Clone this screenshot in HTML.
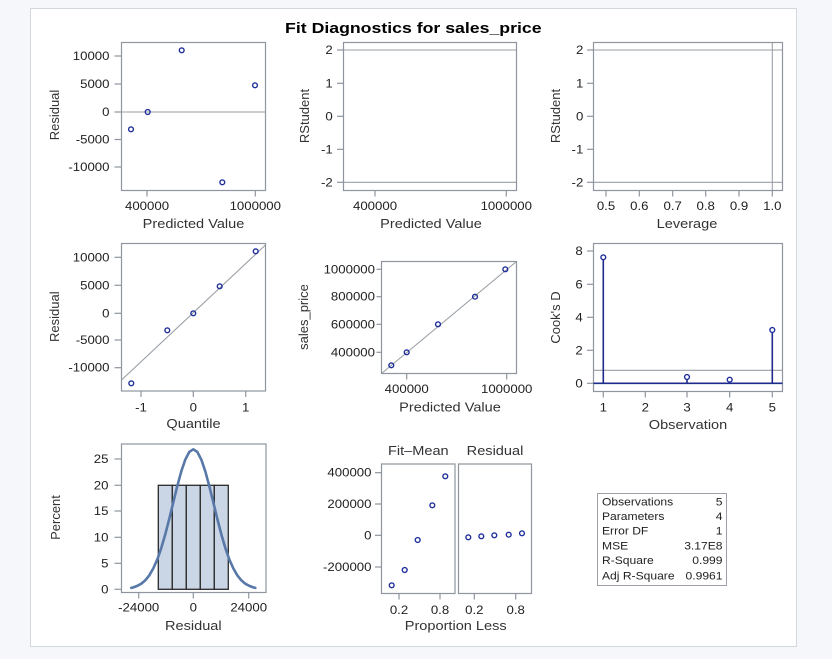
<!DOCTYPE html>
<html><head><meta charset="utf-8"><style>
html,body{margin:0;padding:0;background:#f5f7fb;}
svg{display:block;}
text{font-family:"Liberation Sans",Arial,sans-serif;fill:#222;}
.tk{font-size:11.5px;}
.al{font-size:13px;fill:#333;}
.tb{font-size:11px;fill:#222;}
.bx{fill:none;stroke:#8e959e;stroke-width:1.2;}
.tm{stroke:#8e959e;stroke-width:1.2;}
.rl{stroke:#9a9fa6;stroke-width:1.1;}
.mk{fill:none;stroke:#1f2f9a;stroke-width:1.4;}
</style></head><body>
<svg width="832" height="659" viewBox="0 0 832 659" xmlns="http://www.w3.org/2000/svg">
<rect x="0" y="0" width="832" height="659" fill="#f5f7fb"/>
<rect x="30.5" y="8.5" width="766" height="638" fill="#fff" stroke="#d3d7de" stroke-width="1"/>

<text transform="translate(413.3,33) scale(1.18,1)" text-anchor="middle" style="font-size:15px;font-weight:bold;fill:#000">Fit Diagnostics for sales_price</text>

<!-- Panel 1 -->
<line class="rl" x1="121.5" y1="112" x2="265.5" y2="112"/>
<rect class="bx" x="121.5" y="42.5" width="144" height="148"/>
<g class="tm">
<line x1="114.5" y1="56" x2="121.5" y2="56"/><line x1="114.5" y1="84" x2="121.5" y2="84"/><line x1="114.5" y1="112" x2="121.5" y2="112"/><line x1="114.5" y1="139.5" x2="121.5" y2="139.5"/><line x1="114.5" y1="167" x2="121.5" y2="167"/>
<line x1="147" y1="190.5" x2="147" y2="196.5"/><line x1="255.3" y1="190.5" x2="255.3" y2="196.5"/>
</g>
<g class="tk" text-anchor="end">
<text transform="translate(109.5,60) scale(1.15,1)">10000</text>
<text transform="translate(109.5,88) scale(1.15,1)">5000</text>
<text transform="translate(109.5,116) scale(1.15,1)">0</text>
<text transform="translate(109.5,143.5) scale(1.15,1)">-5000</text>
<text transform="translate(109.5,171) scale(1.15,1)">-10000</text>
</g>
<g class="tk" text-anchor="middle">
<text transform="translate(147,210) scale(1.15,1)">400000</text>
<text transform="translate(255.3,210) scale(1.15,1)">1000000</text>
</g>
<text class="al" text-anchor="middle" transform="translate(193.5,228) scale(1.12,1)">Predicted Value</text>
<text class="al" text-anchor="middle" transform="translate(59,115) rotate(-90)">Residual</text>
<g class="mk">
<circle cx="131" cy="129.3" r="2.4"/><circle cx="147.7" cy="112" r="2.4"/><circle cx="181.7" cy="50.3" r="2.4"/><circle cx="222.3" cy="182.3" r="2.4"/><circle cx="255" cy="85.3" r="2.4"/>
</g>

<!-- Panel 2 -->
<line class="rl" x1="343.5" y1="50" x2="516.5" y2="50"/>
<line class="rl" x1="343.5" y1="182.3" x2="516.5" y2="182.3"/>
<rect class="bx" x="343.5" y="42.5" width="173" height="148"/>
<g class="tm">
<line x1="337" y1="50" x2="343.5" y2="50"/><line x1="337" y1="83.3" x2="343.5" y2="83.3"/><line x1="337" y1="116.3" x2="343.5" y2="116.3"/><line x1="337" y1="149.3" x2="343.5" y2="149.3"/><line x1="337" y1="182.3" x2="343.5" y2="182.3"/>
<line x1="375" y1="190.5" x2="375" y2="196.5"/><line x1="506.3" y1="190.5" x2="506.3" y2="196.5"/>
</g>
<g class="tk" text-anchor="end">
<text transform="translate(332.7,54) scale(1.15,1)">2</text>
<text transform="translate(332.7,87.3) scale(1.15,1)">1</text>
<text transform="translate(332.7,120.3) scale(1.15,1)">0</text>
<text transform="translate(332.7,153.3) scale(1.15,1)">-1</text>
<text transform="translate(332.7,186.3) scale(1.15,1)">-2</text>
</g>
<g class="tk" text-anchor="middle">
<text transform="translate(375,210) scale(1.15,1)">400000</text>
<text transform="translate(506.3,210) scale(1.15,1)">1000000</text>
</g>
<text class="al" text-anchor="middle" transform="translate(431,228) scale(1.12,1)">Predicted Value</text>
<text class="al" text-anchor="middle" transform="translate(309,116) rotate(-90)">RStudent</text>

<!-- Panel 3 -->
<line class="rl" x1="593.5" y1="50" x2="782.5" y2="50"/>
<line class="rl" x1="593.5" y1="182.3" x2="782.5" y2="182.3"/>
<line class="rl" x1="772.3" y1="42.5" x2="772.3" y2="190.5"/>
<rect class="bx" x="593.5" y="42.5" width="189" height="148"/>
<g class="tm">
<line x1="587" y1="50" x2="593.5" y2="50"/><line x1="587" y1="83.3" x2="593.5" y2="83.3"/><line x1="587" y1="116.3" x2="593.5" y2="116.3"/><line x1="587" y1="149.3" x2="593.5" y2="149.3"/><line x1="587" y1="182.3" x2="593.5" y2="182.3"/>
<line x1="606" y1="190.5" x2="606" y2="196.5"/><line x1="639.3" y1="190.5" x2="639.3" y2="196.5"/><line x1="672.7" y1="190.5" x2="672.7" y2="196.5"/><line x1="705.7" y1="190.5" x2="705.7" y2="196.5"/><line x1="739" y1="190.5" x2="739" y2="196.5"/><line x1="772.3" y1="190.5" x2="772.3" y2="196.5"/>
</g>
<g class="tk" text-anchor="end">
<text transform="translate(583.3,54) scale(1.15,1)">2</text>
<text transform="translate(583.3,87.3) scale(1.15,1)">1</text>
<text transform="translate(583.3,120.3) scale(1.15,1)">0</text>
<text transform="translate(583.3,153.3) scale(1.15,1)">-1</text>
<text transform="translate(583.3,186.3) scale(1.15,1)">-2</text>
</g>
<g class="tk" text-anchor="middle">
<text transform="translate(606,210) scale(1.15,1)">0.5</text>
<text transform="translate(639.3,210) scale(1.15,1)">0.6</text>
<text transform="translate(672.7,210) scale(1.15,1)">0.7</text>
<text transform="translate(705.7,210) scale(1.15,1)">0.8</text>
<text transform="translate(739,210) scale(1.15,1)">0.9</text>
<text transform="translate(772.3,210) scale(1.15,1)">1.0</text>
</g>
<text class="al" text-anchor="middle" transform="translate(687,228) scale(1.12,1)">Leverage</text>
<text class="al" text-anchor="middle" transform="translate(560,116) rotate(-90)">RStudent</text>

<!-- Panel 4 (QQ) -->
<clipPath id="c4"><rect x="121.5" y="243.5" width="144" height="147.5"/></clipPath>
<line class="rl" x1="121.5" y1="380" x2="265.5" y2="245" clip-path="url(#c4)"/>
<rect class="bx" x="121.5" y="243.5" width="144" height="147.5"/>
<g class="tm">
<line x1="114.5" y1="257.3" x2="121.5" y2="257.3"/><line x1="114.5" y1="285.3" x2="121.5" y2="285.3"/><line x1="114.5" y1="313.3" x2="121.5" y2="313.3"/><line x1="114.5" y1="340" x2="121.5" y2="340"/><line x1="114.5" y1="367.7" x2="121.5" y2="367.7"/>
<line x1="141" y1="391" x2="141" y2="397"/><line x1="193.3" y1="391" x2="193.3" y2="397"/><line x1="245.7" y1="391" x2="245.7" y2="397"/>
</g>
<g class="tk" text-anchor="end">
<text transform="translate(109.5,261.3) scale(1.15,1)">10000</text>
<text transform="translate(109.5,289.3) scale(1.15,1)">5000</text>
<text transform="translate(109.5,317.3) scale(1.15,1)">0</text>
<text transform="translate(109.5,344) scale(1.15,1)">-5000</text>
<text transform="translate(109.5,371.7) scale(1.15,1)">-10000</text>
</g>
<g class="tk" text-anchor="middle">
<text transform="translate(141,411.5) scale(1.15,1)">-1</text>
<text transform="translate(193.3,411.5) scale(1.15,1)">0</text>
<text transform="translate(245.7,411.5) scale(1.15,1)">1</text>
</g>
<text class="al" text-anchor="middle" transform="translate(193.5,428) scale(1.12,1)">Quantile</text>
<text class="al" text-anchor="middle" transform="translate(59,316.7) rotate(-90)">Residual</text>
<g class="mk">
<circle cx="131.3" cy="383.3" r="2.4"/><circle cx="167.3" cy="330.3" r="2.4"/><circle cx="193.3" cy="313.3" r="2.4"/><circle cx="219.7" cy="286.3" r="2.4"/><circle cx="255.7" cy="251.3" r="2.4"/>
</g>

<!-- Panel 5 -->
<line class="rl" x1="381.5" y1="373.5" x2="516.5" y2="261.5"/>
<rect class="bx" x="381.5" y="261.5" width="135" height="112"/>
<g class="tm">
<line x1="376.5" y1="269.3" x2="381.5" y2="269.3"/><line x1="376.5" y1="296.7" x2="381.5" y2="296.7"/><line x1="376.5" y1="324.3" x2="381.5" y2="324.3"/><line x1="376.5" y1="352.3" x2="381.5" y2="352.3"/>
<line x1="406.7" y1="373.5" x2="406.7" y2="379.5"/><line x1="506.7" y1="373.5" x2="506.7" y2="379.5"/>
</g>
<g class="tk" text-anchor="end">
<text transform="translate(375,273.3) scale(1.15,1)">1000000</text>
<text transform="translate(375,300.7) scale(1.15,1)">800000</text>
<text transform="translate(375,328.3) scale(1.15,1)">600000</text>
<text transform="translate(375,356.3) scale(1.15,1)">400000</text>
</g>
<g class="tk" text-anchor="middle">
<text transform="translate(406.7,393) scale(1.15,1)">400000</text>
<text transform="translate(506.7,393) scale(1.15,1)">1000000</text>
</g>
<text class="al" text-anchor="middle" transform="translate(450,411.5) scale(1.12,1)">Predicted Value</text>
<text class="al" text-anchor="middle" transform="translate(308,317) rotate(-90)">sales_price</text>
<g class="mk">
<circle cx="391.3" cy="365.3" r="2.4"/><circle cx="406.7" cy="352.3" r="2.4"/><circle cx="438" cy="324.3" r="2.4"/><circle cx="475" cy="296.7" r="2.4"/><circle cx="505.3" cy="269.3" r="2.4"/>
</g>

<!-- Panel 6 Cook's D -->
<line class="rl" x1="593.5" y1="370.3" x2="782.5" y2="370.3"/>
<rect class="bx" x="593.5" y="243.5" width="189" height="148"/>
<g stroke="#1f2a8c" stroke-width="1.6">
<line x1="593.5" y1="383.3" x2="782.5" y2="383.3"/>
<line x1="603.3" y1="383.3" x2="603.3" y2="259.5"/>
<line x1="687" y1="383.3" x2="687" y2="379"/>
<line x1="729.7" y1="383.3" x2="729.7" y2="382"/>
<line x1="772.3" y1="383.3" x2="772.3" y2="332.3"/>
</g>
<g class="tm">
<line x1="587" y1="251" x2="593.5" y2="251"/><line x1="587" y1="284.3" x2="593.5" y2="284.3"/><line x1="587" y1="317.3" x2="593.5" y2="317.3"/><line x1="587" y1="350.3" x2="593.5" y2="350.3"/><line x1="587" y1="383.3" x2="593.5" y2="383.3"/>
<line x1="603.3" y1="391.5" x2="603.3" y2="397.5"/><line x1="645.3" y1="391.5" x2="645.3" y2="397.5"/><line x1="687" y1="391.5" x2="687" y2="397.5"/><line x1="729.7" y1="391.5" x2="729.7" y2="397.5"/><line x1="772.3" y1="391.5" x2="772.3" y2="397.5"/>
</g>
<g class="tk" text-anchor="end">
<text transform="translate(582.7,255) scale(1.15,1)">8</text>
<text transform="translate(582.7,288.3) scale(1.15,1)">6</text>
<text transform="translate(582.7,321.3) scale(1.15,1)">4</text>
<text transform="translate(582.7,354.3) scale(1.15,1)">2</text>
<text transform="translate(582.7,387.3) scale(1.15,1)">0</text>
</g>
<g class="tk" text-anchor="middle">
<text transform="translate(603.3,411.5) scale(1.15,1)">1</text>
<text transform="translate(645.3,411.5) scale(1.15,1)">2</text>
<text transform="translate(687,411.5) scale(1.15,1)">3</text>
<text transform="translate(729.7,411.5) scale(1.15,1)">4</text>
<text transform="translate(772.3,411.5) scale(1.15,1)">5</text>
</g>
<text class="al" text-anchor="middle" transform="translate(688,429) scale(1.12,1)">Observation</text>
<text class="al" text-anchor="middle" transform="translate(560,317.5) rotate(-90)">Cook's D</text>
<g class="mk">
<circle cx="603.3" cy="257.3" r="2.4"/><circle cx="687" cy="377" r="2.4"/><circle cx="729.7" cy="379.7" r="2.4"/><circle cx="772.3" cy="330" r="2.4"/>
</g>

<!-- Panel 7 histogram -->
<g fill="#cad5e5" stroke="#2a2a2a" stroke-width="1.3">
<rect x="158.3" y="485.3" width="14" height="104"/>
<rect x="172.3" y="485.3" width="14" height="104"/>
<rect x="186.3" y="485.3" width="14" height="104"/>
<rect x="200.3" y="485.3" width="14" height="104"/>
<rect x="214.3" y="485.3" width="14" height="104"/>
</g>
<polyline fill="none" stroke="#5878a8" stroke-width="2.6" stroke-linejoin="round" stroke-linecap="round" points="131.3,587.9 133.3,587.4 137.3,585.9 141.3,583.7 145.3,580.3 149.3,575.3 153.3,568.4 157.3,559.4 161.3,547.9 165.3,534.2 169.3,518.8 173.3,502.3 177.3,486.1 181.3,471.3 185.3,459.6 189.3,451.9 193.3,449.3 197.3,451.9 201.3,459.6 205.3,471.3 209.3,486.1 213.3,502.3 217.3,518.8 221.3,534.2 225.3,547.9 229.3,559.4 233.3,568.4 237.3,575.3 241.3,580.3 245.3,583.7 249.3,585.9 253.3,587.4 255.3,587.9"/>
<rect class="bx" x="121.5" y="444" width="144.5" height="148.5"/>
<g class="tm">
<line x1="114.5" y1="459" x2="121.5" y2="459"/><line x1="114.5" y1="485.3" x2="121.5" y2="485.3"/><line x1="114.5" y1="511" x2="121.5" y2="511"/><line x1="114.5" y1="537.3" x2="121.5" y2="537.3"/><line x1="114.5" y1="563.3" x2="121.5" y2="563.3"/><line x1="114.5" y1="589.3" x2="121.5" y2="589.3"/>
<line x1="138.7" y1="592.5" x2="138.7" y2="598.5"/><line x1="193.3" y1="592.5" x2="193.3" y2="598.5"/><line x1="248.7" y1="592.5" x2="248.7" y2="598.5"/>
</g>
<g class="tk" text-anchor="end">
<text transform="translate(108.5,463) scale(1.15,1)">25</text>
<text transform="translate(108.5,489.3) scale(1.15,1)">20</text>
<text transform="translate(108.5,515) scale(1.15,1)">15</text>
<text transform="translate(108.5,541.3) scale(1.15,1)">10</text>
<text transform="translate(108.5,567.3) scale(1.15,1)">5</text>
<text transform="translate(108.5,593.3) scale(1.15,1)">0</text>
</g>
<g class="tk" text-anchor="middle">
<text transform="translate(138.7,611.5) scale(1.15,1)">-24000</text>
<text transform="translate(193.3,611.5) scale(1.15,1)">0</text>
<text transform="translate(248.7,611.5) scale(1.15,1)">24000</text>
</g>
<text class="al" text-anchor="middle" transform="translate(193.3,630) scale(1.12,1)">Residual</text>
<text class="al" text-anchor="middle" transform="translate(60,517.5) rotate(-90)">Percent</text>

<!-- Panel 8 -->
<text class="al" text-anchor="middle" transform="translate(418.3,455) scale(1.12,1)">Fit–Mean</text>
<text class="al" text-anchor="middle" transform="translate(495,455) scale(1.12,1)">Residual</text>
<rect class="bx" x="381.5" y="464" width="73.5" height="129.5"/>
<rect class="bx" x="458.5" y="464" width="73" height="129.5"/>
<g class="tm">
<line x1="375" y1="472.7" x2="381.5" y2="472.7"/><line x1="375" y1="504" x2="381.5" y2="504"/><line x1="375" y1="535.3" x2="381.5" y2="535.3"/><line x1="375" y1="567" x2="381.5" y2="567"/>
<line x1="399" y1="593.5" x2="399" y2="599.5"/><line x1="440" y1="593.5" x2="440" y2="599.5"/><line x1="474.3" y1="593.5" x2="474.3" y2="599.5"/><line x1="515.7" y1="593.5" x2="515.7" y2="599.5"/>
</g>
<g class="tk" text-anchor="end">
<text transform="translate(371.5,476.7) scale(1.15,1)">400000</text>
<text transform="translate(371.5,508) scale(1.15,1)">200000</text>
<text transform="translate(371.5,539.3) scale(1.15,1)">0</text>
<text transform="translate(371.5,571) scale(1.15,1)">-200000</text>
</g>
<g class="tk" text-anchor="middle">
<text transform="translate(399,614) scale(1.15,1)">0.2</text>
<text transform="translate(440,614) scale(1.15,1)">0.8</text>
<text transform="translate(474.3,614) scale(1.15,1)">0.2</text>
<text transform="translate(515.7,614) scale(1.15,1)">0.8</text>
</g>
<text class="al" text-anchor="middle" transform="translate(455.7,630) scale(1.12,1)">Proportion Less</text>
<g class="mk">
<circle cx="391.7" cy="585.3" r="2.4"/><circle cx="404.7" cy="570" r="2.4"/><circle cx="417.7" cy="540" r="2.4"/><circle cx="432.3" cy="505.3" r="2.4"/><circle cx="445.3" cy="476.3" r="2.4"/>
<circle cx="468.3" cy="537.3" r="2.4"/><circle cx="481.3" cy="536.3" r="2.4"/><circle cx="494.3" cy="535.3" r="2.4"/><circle cx="508.7" cy="534.7" r="2.4"/><circle cx="522" cy="533.3" r="2.4"/>
</g>

<!-- Stats table -->
<rect x="597.5" y="493.5" width="129" height="92" fill="#fff" stroke="#9ca1a8" stroke-width="1"/>
<g class="tb">
<text transform="translate(602,505.7) scale(1.1,1)">Observations</text>
<text transform="translate(602,520) scale(1.1,1)">Parameters</text>
<text transform="translate(602,534.3) scale(1.1,1)">Error DF</text>
<text transform="translate(602,549.3) scale(1.1,1)">MSE</text>
<text transform="translate(602,564) scale(1.1,1)">R-Square</text>
<text transform="translate(602,579.3) scale(1.1,1)">Adj R-Square</text>
</g>
<g class="tb" text-anchor="end">
<text transform="translate(722.5,505.7) scale(1.1,1)">5</text>
<text transform="translate(722.5,520) scale(1.1,1)">4</text>
<text transform="translate(722.5,534.3) scale(1.1,1)">1</text>
<text transform="translate(722.5,549.3) scale(1.1,1)">3.17E8</text>
<text transform="translate(722.5,564) scale(1.1,1)">0.999</text>
<text transform="translate(722.5,579.3) scale(1.1,1)">0.9961</text>
</g>
</svg>
</body></html>
